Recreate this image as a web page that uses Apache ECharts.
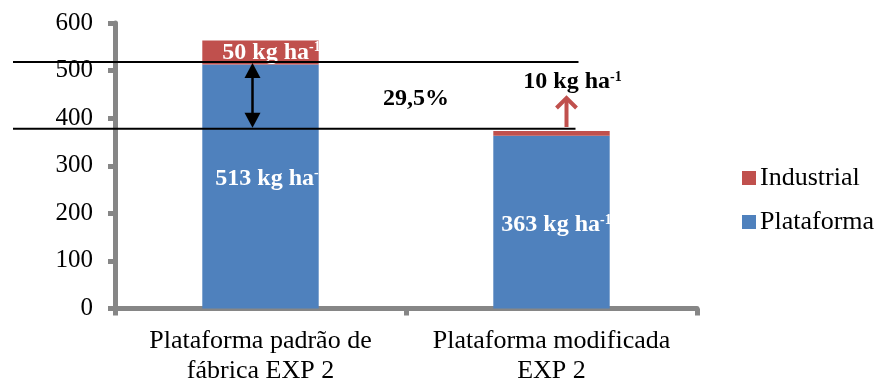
<!DOCTYPE html>
<html><head><meta charset="utf-8">
<script src="https://cdn.jsdelivr.net/npm/echarts@6/dist/echarts.min.js"></script>
<style>html,body{margin:0;padding:0;background:#fff}#c{width:883px;height:381px}</style>
</head><body><div id="c"></div>
<script>
// ---- data ----
const categories = ['Plataforma padrão de\nfábrica EXP 2', 'Plataforma modificada\nEXP 2'];
const plataforma = [513, 363];
const industrial = [50, 10];
const seriesNames = ['Plataforma', 'Industrial'];
const legendOrder = ['Industrial', 'Plataforma'];
const yMin = 0, yMax = 600, yInterval = 100;
const refLevels = [518, 378];          // the two horizontal reference lines
const reductionText = '29,5%';
const unitText = ' kg ha';
const supText = '-1';

// ---- styles ----
const FONT = '"Liberation Serif", "Times New Roman", serif';
const BLUE = '#4F81BD', RED = '#C0504D', AXIS = '#868686';

const chart = echarts.init(document.getElementById('c'));

const rich = (col, size) => ({
  a: { color: col, fontFamily: FONT, fontWeight: 'bold', fontSize: size },
  s: { color: col, fontFamily: FONT, fontWeight: 'bold', fontSize: Math.round(size * 0.6), padding: [0, 0, 10, 0] }
});
const fmt = v => '{a|' + v + unitText + '}{s|' + supText + '}';

const platData = plataforma.map((v, i) => ({
  value: v,
  label: { show: true, position: 'insideLeft', distance: [13, 8][i], offset: [0, [-8, 3][i]],
           formatter: p => fmt(p.value), rich: rich('#fff', 24) }
}));
const indData = industrial.map((v, i) => i === 0 ? ({
  value: v,
  label: { show: true, position: 'insideLeft', distance: 20, offset: [0, 0],
           formatter: p => fmt(p.value), rich: rich('#fff', 24) }
}) : ({
  value: v,
  label: { show: true, position: 'top', distance: 5, offset: [21, -32],
           formatter: p => fmt(p.value), rich: rich('#000', 24) }
}));

const option = {
  animation: false,
  backgroundColor: '#fff',
  grid: { left: 115, right: 186, top: 23, bottom: 72.5, containLabel: false, outerBoundsMode: 'none' },
  legend: {
    data: legendOrder, orient: 'vertical', left: 737, top: 160,
    itemWidth: 14, itemHeight: 14, itemGap: 18, icon: 'rect',
    textStyle: { fontFamily: FONT, fontSize: 26, color: '#000', padding: [0, 0, 0, -1] }
  },
  xAxis: {
    type: 'category', data: categories,
    axisLine: { lineStyle: { color: AXIS, width: 5 } },
    axisTick: { show: true, length: 7, lineStyle: { color: AXIS, width: 5 } },
    axisLabel: { interval: 0, color: '#000', fontFamily: FONT, fontSize: 26, lineHeight: 30, margin: 18 }
  },
  yAxis: {
    type: 'value', min: yMin, max: yMax, interval: yInterval,
    splitLine: { show: false },
    axisLine: { show: true, lineStyle: { color: AXIS, width: 5 } },
    axisTick: { show: true, length: 7, lineStyle: { color: AXIS, width: 5 } },
    axisLabel: { color: '#000', fontFamily: FONT, fontSize: 25, margin: 22 }
  },
  series: [
    { name: seriesNames[0], type: 'bar', stack: 't', data: platData, barWidth: '40%', itemStyle: { color: BLUE } },
    { name: seriesNames[1], type: 'bar', stack: 't', data: indData, barWidth: '40%', itemStyle: { color: RED } }
  ]
};
chart.setOption(option);

// ---- annotations positioned through the chart's own scales ----
const px = (ci, v) => chart.convertToPixel({ xAxisIndex: 0, yAxisIndex: 0 }, [ci, v]);
const c0 = px(0, 0)[0], c1 = px(1, 0)[0];
const yA = px(0, refLevels[0])[1], yB = px(0, refLevels[1])[1];
const topB = px(1, plataforma[1] + industrial[1])[1];
const ax = c0 - 8;
const rx = c1 + 15;
const tipY = topB - 34;
const g = [
  { type: 'line', shape: { x1: 13, y1: yA, x2: c1 + 27, y2: yA }, style: { stroke: '#000', lineWidth: 2 }, z: 100 },
  { type: 'line', shape: { x1: 13, y1: yB, x2: c1 + 24, y2: yB }, style: { stroke: '#000', lineWidth: 2 }, z: 100 },
  { type: 'line', shape: { x1: ax, y1: yA + 12, x2: ax, y2: yB - 12 }, style: { stroke: '#000', lineWidth: 2.5 }, z: 100 },
  { type: 'polygon', shape: { points: [[ax, yA + 1], [ax - 8, yA + 16], [ax + 8, yA + 16]] }, style: { fill: '#000' }, z: 100 },
  { type: 'polygon', shape: { points: [[ax, yB - 1], [ax - 8, yB - 16], [ax + 8, yB - 16]] }, style: { fill: '#000' }, z: 100 },
  { type: 'line', shape: { x1: rx, y1: topB - 4, x2: rx, y2: tipY + 2 }, style: { stroke: RED, lineWidth: 4 }, z: 100 },
  { type: 'polyline', shape: { points: [[rx - 10, tipY + 11], [rx, tipY + 1], [rx + 10, tipY + 11]] }, style: { stroke: RED, lineWidth: 4, fill: null }, z: 100 },
  { type: 'text', x: (c0 + c1) / 2 + 10, y: (yA + yB) / 2 + 3,
    style: { text: reductionText, fill: '#000', font: 'bold 24px ' + FONT, align: 'center', verticalAlign: 'middle' }, z: 100 }
];
chart.setOption({ graphic: g });
</script>
</body></html>
